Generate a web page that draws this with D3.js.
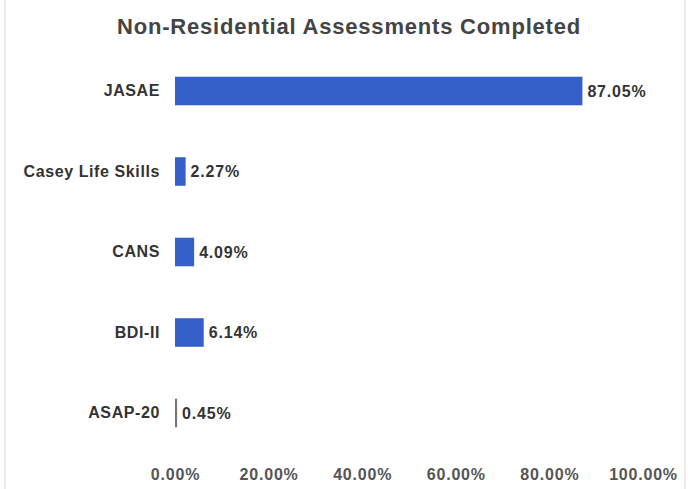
<!DOCTYPE html>
<html>
<head>
<meta charset="utf-8">
<script src="https://cdn.jsdelivr.net/npm/d3@7"></script>
<style>
  html, body { margin: 0; padding: 0; background: #fff; }
  svg { display: block; font-family: "Liberation Sans", Arial, sans-serif; }
</style>
</head>
<body>
<svg id="chart" width="692" height="489"></svg>
<script>
const categories = ["JASAE", "Casey Life Skills", "CANS", "BDI-II", "ASAP-20"];
const values = [87.05, 2.27, 4.09, 6.14, 0.45];
const tickValues = [0, 20, 40, 60, 80, 100];
const title = "Non-Residential Assessments Completed";

const svg = d3.select("#chart");
const W = 692, H = 489;

// faint frame edges
svg.append("line").attr("x1", 5).attr("x2", 5).attr("y1", 0).attr("y2", H)
  .attr("stroke", "#e6e6e6").attr("stroke-width", 1.5);
svg.append("line").attr("x1", 685).attr("x2", 685).attr("y1", 0).attr("y2", H)
  .attr("stroke", "#e6e6e6").attr("stroke-width", 1.5);

const x = d3.scaleLinear().domain([0, 100]).range([175, 643]);
const y = d3.scaleBand().domain(categories)
  .range([50.75, 453.25]).paddingInner(0.645).paddingOuter(0.3225);

svg.append("text")
  .attr("x", 349).attr("y", 34)
  .attr("text-anchor", "middle")
  .attr("font-size", 22).attr("font-weight", "bold")
  .attr("letter-spacing", 0.8)
  .attr("fill", "#444")
  .text(title);

// x axis (labels only)
const xAxis = d3.axisBottom(x).tickValues(tickValues)
  .tickFormat(d => d.toFixed(2) + "%").tickSize(0).tickPadding(0);
const gx = svg.append("g").attr("transform", "translate(0,469)").call(xAxis);
gx.select(".domain").remove();
gx.selectAll("text").attr("font-size", 16).attr("font-weight", "bold")
  .attr("letter-spacing", 0.8)
  .attr("fill", "#555").attr("font-family", "Liberation Sans, Arial, sans-serif");

// y axis (labels only)
const yAxis = d3.axisLeft(y).tickSize(0).tickPadding(0);
const gy = svg.append("g").attr("transform", "translate(160,0)").call(yAxis);
gy.select(".domain").remove();
gy.selectAll("text").attr("font-size", 16).attr("font-weight", "bold")
  .attr("letter-spacing", 0.6)
  .attr("fill", "#333").attr("font-family", "Liberation Sans, Arial, sans-serif");

const data = categories.map((c, i) => ({ c, v: values[i] }));

svg.append("g").selectAll("rect").data(data).join("rect")
  .attr("x", x(0))
  .attr("y", d => y(d.c))
  .attr("width", d => Math.max(x(d.v) - x(0), 1.5))
  .attr("height", y.bandwidth())
  .attr("fill", d => d.v < 1 ? "#777" : "#3660c9");

svg.append("g").selectAll("text").data(data).join("text")
  .attr("x", d => Math.max(x(d.v), x(0) + 1.5) + 5)
  .attr("y", d => y(d.c) + y.bandwidth() / 2)
  .attr("dy", "0.35em")
  .attr("font-size", 16).attr("font-weight", "bold")
  .attr("letter-spacing", 0.8)
  .attr("fill", "#333")
  .text(d => d.v.toFixed(2) + "%");
</script>
</body>
</html>
